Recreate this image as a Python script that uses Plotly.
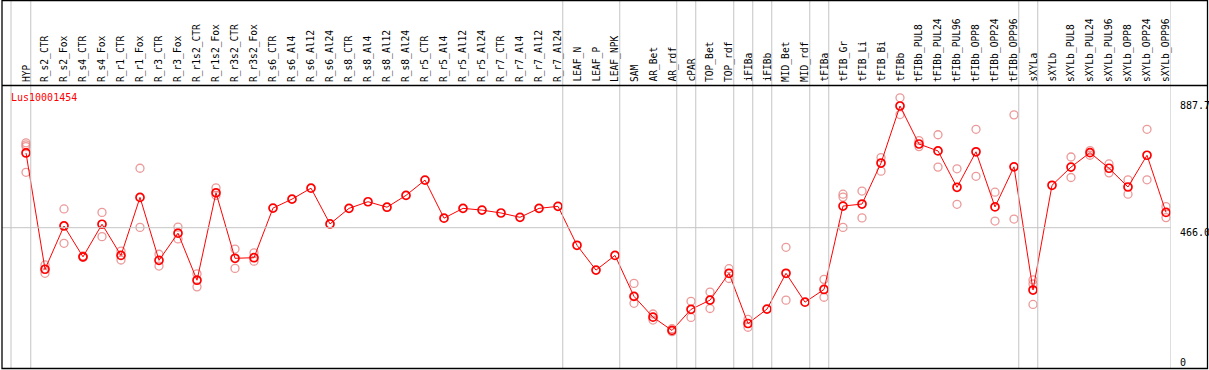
import plotly.graph_objects as go

categories = ["HYP", "R_s2_CTR", "R_s2_Fox", "R_s4_CTR", "R_s4_Fox", "R_r1_CTR", "R_r1_Fox",
              "R_r3_CTR", "R_r3_Fox", "R_r1s2_CTR", "R_r1s2_Fox", "R_r3s2_CTR", "R_r3s2_Fox",
              "R_s6_CTR", "R_s6_Al4", "R_s6_Al12", "R_s6_Al24", "R_s8_CTR", "R_s8_Al4",
              "R_s8_Al12", "R_s8_Al24", "R_r5_CTR", "R_r5_Al4", "R_r5_Al12", "R_r5_Al24",
              "R_r7_CTR", "R_r7_Al4", "R_r7_Al12", "R_r7_Al24", "LEAF_N", "LEAF_P", "LEAF_NPK",
              "SAM", "AR_Bet", "AR_rdf", "cPAR", "TOP_Bet", "TOP_rdf", "iFIBa", "iFIBb",
              "MID_Bet", "MID_rdf", "tFIBa", "tFIB_Gr", "tFIB_Li", "tFIB_Bi", "tFIBb",
              "tFIBb_PUL8", "tFIBb_PUL24", "tFIBb_PUL96", "tFIBb_OPP8", "tFIBb_OPP24",
              "tFIBb_OPP96", "sXYLa", "sXYLb", "sXYLb_PUL8", "sXYLb_PUL24", "sXYLb_PUL96",
              "sXYLb_OPP8", "sXYLb_OPP24", "sXYLb_OPP96"]

mean_values = [725, 322, 472, 365, 478, 370, 571, 353, 447, 284, 587, 360, 362,
               534, 565, 603, 479, 533, 556, 537, 578, 631, 499, 533, 527, 517, 502, 533, 540,
               405, 319, 370, 228, 156, 110, 183, 215, 308, 134, 184, 308, 208, 252,
               541, 548, 690, 887.7, 756, 732, 606, 729, 538, 677, 250, 613,
               676, 726, 672, 607, 717, 519]

N = None
rep1 = [760, 337, 531, 368, 519, 385, 672, 374, 468, 306, 604, 392, 379,
        N, N, N, N, N, N, N, N, N, N, N, N, N, N, N, N,
        N, N, N, 273, 167, 116, 211, 243, 324, 148, N, 398, N, 287,
        582, 593, 709, 916, 768, 788, 670, 807, 589, 857, 285, N,
        711, 733, 687, 632, 807, 539]
rep2 = [658, 308, 412, 363, 435, 354, 467, 333, 427, 261, 578, 325, 350,
        N, N, N, N, N, N, N, N, N, N, N, N, N, N, N, N,
        N, N, N, 204, 146, 106, 155, 186, 290, 121, N, 215, N, 225,
        467, 500, 662, 858, 747, 676, 547, 644, 489, 496, 200, N,
        640, 717, 656, 582, 632, 501]
rep3 = [753] + [N] * 42 + [572] + [N] * 9 + [271] + [N] * 7
rep4 = [747] + [N] * 60

axis_labels = ["887.7", "466.0", "0"]
axis_values = [887.7, 466.0, 0]
gene_id = "Lus10001454"

group_ends = ["HYP", "R_r7_Al24", "LEAF_NPK", "AR_rdf", "cPAR", "TOP_rdf", "iFIBa",
              "iFIBb", "MID_rdf", "tFIBa", "tFIBb_OPP96", "sXYLa", "sXYLb_OPP96"]

W, H = 1209, 370
step = 19.0
x_first = 26.0
px_left, px_right = 11.0, 1170.75
py_top, py_bot = 86.0, 368.0
slope = (227.7 - 106.0) / (887.7 - 466.0)
y0px = 227.7 + 466.0 * slope

xr = [(px_left - x_first) / step, (px_right - x_first) / step]
yr = [(y0px - py_bot) / slope, (y0px - py_top) / slope]

idx = list(range(len(categories)))
fig = go.Figure()

rep_color = "rgba(232,135,135,0.85)"
for reps in (rep1, rep2, rep3, rep4):
    fig.add_trace(go.Scatter(x=idx, y=reps, mode="markers",
                             marker=dict(symbol="circle-open", size=8, color=rep_color,
                                         line=dict(width=1.3, color=rep_color)),
                             hoverinfo="skip", showlegend=False))

fig.add_trace(go.Scatter(x=idx, y=mean_values, mode="lines+markers",
                         line=dict(color="#ff0000", width=1),
                         marker=dict(symbol="circle-open", size=8, color="#ff0000",
                                     line=dict(width=1.7, color="#ff0000")),
                         showlegend=False))

shapes = []
grey = "#c4c4c4"
shapes.append(dict(type="line", xref="paper", yref="paper", x0=px_left / W, x1=px_left / W,
                   y0=(H - py_bot) / H, y1=1, line=dict(color=grey, width=1)))
for g in group_ends:
    xv = categories.index(g) + 0.25
    shapes.append(dict(type="line", xref="x", yref="paper", x0=xv, x1=xv,
                       y0=(H - py_bot) / H, y1=1, line=dict(color=grey, width=1)))
shapes.append(dict(type="line", xref="paper", yref="y", x0=2 / W, x1=px_right / W,
                   y0=axis_values[1], y1=axis_values[1], line=dict(color=grey, width=1)))
shapes.append(dict(type="line", xref="paper", yref="paper", x0=2 / W, x1=1207.5 / W,
                   y0=(H - 85.5) / H, y1=(H - 85.5) / H, line=dict(color="black", width=1.3)))
shapes.append(dict(type="rect", xref="paper", yref="paper", x0=2 / W, x1=1207.5 / W,
                   y0=(H - 368.5) / H, y1=(H - 0.5) / H, line=dict(color="black", width=1.3)))

annotations = []
for i, c in enumerate(categories):
    annotations.append(dict(x=i, y=(H - 83) / H, xref="x", yref="paper", text=c,
                            textangle=-90, showarrow=False, xanchor="center", yanchor="bottom",
                            font=dict(family="DejaVu Sans Mono", size=9.6, color="black"),
                            borderpad=0))
annotations.append(dict(x=8.5 / W, y=(H - 97.5) / H, xref="paper", yref="paper", text=gene_id,
                        showarrow=False, xanchor="left", yanchor="middle",
                        font=dict(family="DejaVu Sans Mono", size=10, color="#ff0000")))
label_shift = [0, -5, 0]
for lab, val, sh in zip(axis_labels, axis_values, label_shift):
    annotations.append(dict(x=1177.5 / W, y=val, xref="paper", yref="y", text=lab,
                            showarrow=False, xanchor="left", yanchor="middle", yshift=sh,
                            font=dict(family="DejaVu Sans Mono", size=10, color="black")))

fig.update_layout(
    width=W, height=H, margin=dict(l=0, r=0, t=0, b=0),
    paper_bgcolor="white", plot_bgcolor="white",
    xaxis=dict(domain=[px_left / W, px_right / W], range=xr, visible=False),
    yaxis=dict(domain=[(H - py_bot) / H, (H - py_top) / H], range=yr, visible=False),
    shapes=shapes, annotations=annotations,
)

fig.write_html("out.html", config={"displayModeBar": False},
               post_script="document.body.style.margin='0px';document.body.style.overflow='hidden';")
